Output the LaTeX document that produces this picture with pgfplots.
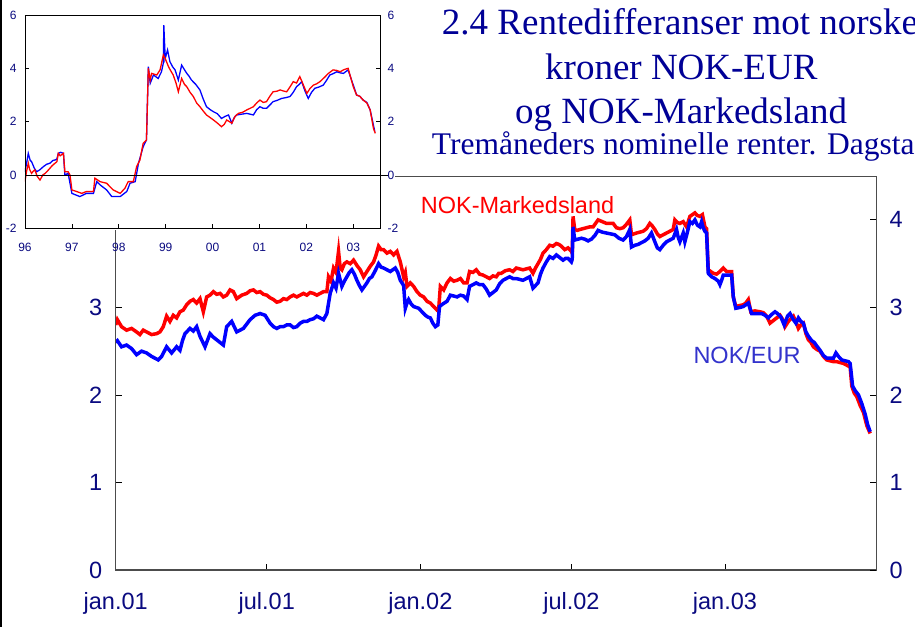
\documentclass[border=0pt]{standalone}
\usepackage{fontspec}
\setmainfont{Liberation Sans}
\newfontfamily\titlefont{Liberation Serif}
\usepackage{pgfplots}
\pgfplotsset{compat=1.18}
\definecolor{navy}{RGB}{10,10,128}
\definecolor{titleblue}{RGB}{0,0,150}
\definecolor{eurlabel}{RGB}{51,51,204}

\pgfplotstableread{
d v
0 2.80
2 2.86
7 2.78
13 2.74
19 2.76
25 2.72
29 2.69
33 2.74
37 2.72
43 2.69
49 2.70
53 2.72
57 2.78
61 2.90
65 2.84
69 2.91
73 2.88
77 2.95
81 2.97
85 3.03
89 3.07
93 3.09
97 3.05
101 3.10
105 2.95
109 3.12
113 3.14
117 3.18
121 3.15
125 3.16
129 3.12
133 3.14
137 3.20
141 3.18
145 3.10
151 3.14
157 3.16
161 3.19
165 3.20
169 3.17
173 3.18
177 3.15
181 3.14
185 3.11
189 3.09
193 3.06
197 3.07
201 3.10
205 3.09
209 3.12
213 3.14
217 3.12
221 3.14
225 3.16
229 3.14
233 3.17
237 3.16
241 3.14
245 3.16
249 3.18
253 3.18
255 3.35
258 3.30
261 3.45
264 3.40
267 3.64
269 3.45
271 3.43
274 3.50
277 3.52
281 3.50
285 3.54
289 3.48
293 3.43
297 3.35
301 3.41
305 3.47
309 3.52
312 3.60
315 3.70
318 3.66
321 3.66
325 3.62
329 3.64
333 3.60
337 3.64
341 3.52
345 3.35
347 3.40
349 3.24
353 3.28
357 3.24
361 3.18
365 3.14
369 3.12
373 3.07
377 3.05
381 3.01
385 2.97
387 2.98
389 3.24
393 3.20
397 3.28
401 3.33
405 3.30
409 3.31
413 3.33
417 3.28
421 3.28
424 3.41
428 3.40
432 3.43
436 3.38
440 3.37
444 3.35
448 3.33
452 3.36
456 3.35
459 3.39
462 3.39
467 3.42
472 3.43
476 3.41
480 3.45
484 3.44
488 3.43
492 3.44
496 3.45
500 3.39
503 3.45
506 3.50
509 3.55
512 3.62
516 3.66
520 3.71
524 3.70
528 3.73
531 3.72
534 3.70
538 3.66
542 3.68
546 3.64
547 3.62
548 4.04
550 3.89
553 3.88
556 3.89
560 3.90
564 3.91
568 3.92
572 3.92
575 3.96
578 4.00
583 3.98
588 3.96
592 3.96
596 3.96
600 3.91
604 3.90
608 3.91
612 3.95
616 4.00
618 3.83
621 3.84
624 3.85
628 3.86
632 3.87
636 3.90
640 3.96
643 3.93
646 3.89
649 3.84
652 3.81
656 3.83
660 3.85
664 3.87
668 3.89
670 4.00
673 3.97
676 3.96
680 3.98
684 3.92
688 4.04
691 4.06
694 4.08
697 4.05
700 4.04
703 4.06
706 3.92
708 3.90
710 3.43
713 3.41
716 3.39
720 3.38
724 3.41
726 3.43
728 3.45
732 3.41
735 3.41
738 3.41
740 3.12
743 3.01
747 3.02
752 3.03
755 3.05
758 3.09
761 2.95
766 2.96
772 2.95
776 2.94
780 2.90
784 2.82
788 2.85
792 2.88
796 2.91
800 2.85
802 2.78
806 2.84
812 2.90
815 2.84
818 2.76
821 2.80
824 2.82
827 2.70
830 2.63
833 2.60
836 2.55
840 2.52
844 2.50
848 2.44
852 2.40
856 2.39
860 2.38
864 2.38
868 2.37
872 2.36
876 2.34
880 2.32
882 2.10
885 2.02
888 1.98
892 1.88
896 1.80
900 1.65
904 1.56
}\mainred

\pgfplotstableread{
d v
0 2.60
2 2.62
7 2.55
13 2.57
19 2.53
25 2.46
31 2.50
37 2.48
43 2.44
47 2.42
51 2.40
55 2.44
61 2.55
67 2.48
73 2.55
77 2.51
80 2.62
83 2.70
89 2.76
93 2.73
97 2.78
101 2.67
107 2.55
113 2.70
117 2.66
121 2.63
125 2.60
129 2.57
133 2.78
139 2.84
145 2.72
149 2.74
153 2.76
161 2.86
167 2.91
173 2.93
179 2.91
185 2.82
189 2.78
193 2.76
197 2.78
201 2.78
205 2.80
209 2.80
213 2.77
217 2.78
221 2.82
225 2.84
229 2.84
233 2.86
237 2.87
241 2.90
245 2.88
249 2.86
253 2.93
257 3.16
261 3.28
264 3.22
267 3.39
271 3.24
274 3.30
277 3.35
280 3.40
283 3.43
286 3.38
289 3.31
292 3.25
295 3.20
298 3.24
301 3.28
304 3.33
307 3.35
311 3.42
315 3.50
318 3.46
321 3.45
325 3.43
329 3.41
335 3.45
338 3.40
341 3.31
345 3.25
347 2.99
349 3.05
351 3.09
354 3.04
357 3.01
360 3.00
363 2.99
367 2.95
371 2.91
374 2.89
377 2.88
380 2.82
383 2.78
386 2.80
388 3.01
392 3.04
397 3.07
401 3.14
405 3.13
409 3.12
413 3.14
417 3.13
421 3.09
424 3.24
428 3.26
432 3.28
436 3.26
440 3.26
444 3.21
448 3.14
452 3.17
456 3.20
460 3.27
464 3.31
468 3.33
472 3.35
476 3.33
480 3.33
484 3.32
488 3.31
492 3.33
496 3.35
500 3.22
503 3.25
506 3.28
509 3.38
512 3.45
516 3.52
520 3.58
524 3.56
528 3.60
532 3.57
536 3.54
539 3.56
542 3.56
546 3.52
547 3.55
548 3.92
550 3.77
554 3.78
558 3.79
562 3.78
566 3.76
570 3.78
574 3.82
578 3.88
583 3.86
588 3.85
593 3.84
598 3.83
603 3.79
608 3.77
612 3.81
616 3.89
618 3.69
622 3.71
626 3.72
630 3.74
634 3.76
638 3.79
642 3.85
646 3.75
649 3.68
652 3.66
656 3.71
660 3.75
664 3.77
668 3.79
672 3.89
674 3.80
676 3.75
680 3.85
682 3.75
685 3.86
688 3.98
691 3.96
694 4.00
697 3.94
700 3.92
702 3.98
704 3.91
706 3.87
708 3.85
710 3.39
714 3.35
718 3.33
722 3.30
724 3.26
726 3.31
728 3.37
733 3.37
738 3.37
740 3.12
743 2.99
748 3.00
752 3.01
755 3.03
758 3.05
762 2.93
768 2.93
774 2.93
778 2.91
782 2.88
786 2.92
790 2.95
793 2.93
797 2.89
801 2.80
805 2.90
808 2.93
812 2.86
815 2.82
818 2.88
821 2.84
824 2.82
827 2.72
830 2.67
834 2.62
837 2.60
840 2.56
844 2.51
848 2.45
852 2.42
856 2.42
860 2.42
863 2.48
866 2.44
870 2.40
874 2.39
878 2.38
880 2.36
883 2.10
886 2.05
890 2.00
894 1.90
898 1.78
901 1.66
904 1.58
}\mainblue

\pgfplotstableread{
y v
96.00 -0.25
96.03 0.10
96.07 0.44
96.10 0.20
96.14 0.06
96.18 0.15
96.21 0.19
96.26 -0.05
96.32 -0.19
96.38 0.00
96.43 0.06
96.48 0.15
96.53 0.25
96.58 0.35
96.64 0.44
96.68 0.50
96.71 0.81
96.75 0.72
96.82 0.81
96.85 0.12
96.92 0.12
96.96 0.00
97.00 -0.56
97.10 -0.62
97.21 -0.69
97.31 -0.62
97.46 -0.62
97.49 -0.12
97.60 -0.25
97.74 -0.31
97.88 -0.56
98.03 -0.69
98.13 -0.50
98.20 -0.25
98.31 -0.25
98.38 0.31
98.45 0.56
98.52 1.19
98.59 1.31
98.63 4.00
98.67 3.56
98.70 3.81
98.81 3.75
98.88 3.94
98.95 4.50
98.99 4.37
99.06 4.06
99.11 3.90
99.16 3.75
99.22 3.45
99.27 3.12
99.34 3.62
99.40 3.40
99.45 3.31
99.52 3.10
99.59 2.94
99.66 2.70
99.73 2.56
99.80 2.40
99.87 2.25
99.95 2.15
100.02 2.06
100.10 1.95
100.19 1.81
100.25 1.90
100.30 2.06
100.36 2.00
100.41 1.94
100.48 2.20
100.55 2.31
100.64 2.35
100.73 2.44
100.80 2.50
100.87 2.56
100.94 2.70
101.01 2.81
101.08 2.72
101.15 2.75
101.22 2.95
101.29 3.12
101.37 3.14
101.44 3.19
101.51 3.15
101.58 3.12
101.65 3.30
101.72 3.50
101.79 3.45
101.86 3.69
101.93 3.40
102.01 3.06
102.08 3.25
102.15 3.37
102.22 3.42
102.29 3.50
102.38 3.65
102.47 3.81
102.57 3.94
102.65 3.92
102.72 3.87
102.80 3.95
102.89 4.00
103.00 3.31
103.07 3.00
103.14 2.95
103.21 2.81
103.29 2.70
103.36 2.44
103.43 1.75
103.47 1.56
}\insetred

\pgfplotstableread{
y v
96.00 0.12
96.04 0.50
96.07 0.81
96.11 0.55
96.14 0.50
96.20 0.25
96.25 0.12
96.32 0.20
96.39 0.31
96.46 0.40
96.53 0.44
96.60 0.55
96.64 0.56
96.68 0.60
96.71 0.81
96.76 0.85
96.82 0.81
96.85 0.00
96.92 0.06
97.00 -0.69
97.17 -0.81
97.31 -0.69
97.46 -0.69
97.53 -0.25
97.60 -0.37
97.74 -0.56
97.85 -0.81
98.03 -0.81
98.17 -0.62
98.24 -0.31
98.35 -0.25
98.42 0.44
98.52 1.06
98.59 1.31
98.63 4.06
98.67 3.44
98.74 3.75
98.84 3.62
98.91 3.87
98.95 4.20
98.96 5.62
98.99 4.37
99.04 4.69
99.09 4.25
99.15 4.05
99.20 3.94
99.27 3.56
99.34 4.12
99.40 3.95
99.45 3.81
99.50 3.70
99.55 3.56
99.64 3.40
99.73 3.19
99.80 2.85
99.87 2.56
99.95 2.45
100.02 2.37
100.10 2.30
100.19 2.12
100.27 2.20
100.34 2.25
100.41 1.94
100.46 2.15
100.51 2.25
100.62 2.28
100.73 2.31
100.80 2.28
100.87 2.25
100.94 2.45
101.01 2.56
101.08 2.50
101.15 2.50
101.22 2.62
101.29 2.75
101.38 2.80
101.47 2.87
101.56 2.90
101.65 2.94
101.72 3.10
101.79 3.31
101.85 3.40
101.90 3.50
101.97 3.15
102.04 2.87
102.11 3.10
102.18 3.25
102.27 3.30
102.36 3.37
102.43 3.55
102.50 3.75
102.57 3.80
102.65 3.87
102.72 3.83
102.79 3.81
102.89 3.94
103.00 3.37
103.07 3.00
103.14 2.95
103.21 2.81
103.29 2.72
103.36 2.44
103.46 1.62
}\insetblue

\pgfplotsset{
  mainax/.style={
    at={(115.7bp,57bp)}, anchor=south west,
    width=760.3bp, height=393bp, scale only axis,
    xmin=0, xmax=911, ymin=0, ymax=4.49,
    axis line style={black!70, line width=1bp},
    tick style={black, line width=0.8bp},
    major tick length=6bp,
    ytick={0,1,2,3,4},
    tick label style={font=\fontsize{23.5bp}{28bp}\selectfont, text=navy},
    /pgf/number format/assume math mode=true,
  },
  insetax/.style={
    at={(25bp,398.7bp)}, anchor=south west,
    width=355bp, height=213.3bp, scale only axis,
    xmin=96, xmax=103.57, ymin=-2, ymax=6,
    axis line style={black, line width=0.8bp},
    tick style={black, line width=0.6bp},
    major tick length=4bp,
    ytick={-2,0,2,4,6},
    tick label style={font=\fontsize{12bp}{14bp}\selectfont, text=navy},
    /pgf/number format/assume math mode=true,
  },
}

\begin{document}
\begin{tikzpicture}
\useasboundingbox (0,0) rectangle (915bp,627bp);
\clip (0,0) rectangle (915bp,627bp);
\fill[white] (0,0) rectangle (915bp,627bp);

% main axis
\begin{axis}[mainax,
  xtick={0,181,365,546,730},
  xticklabels={jan.01,jul.01,jan.02,jul.02,jan.03},
  xtick pos=left, ytick pos=left,
  yticklabel style={xshift=-10bp},
  xticklabel style={yshift=-19bp},
]
\addplot[red, line width=3.5bp] table[x=d,y=v] {\mainred};
\addplot[blue, line width=3.5bp] table[x=d,y=v] {\mainblue};
\end{axis}
\begin{axis}[mainax, xtick=\empty, ytick pos=right, yticklabel pos=right,
  yticklabel style={xshift=10bp}]
\end{axis}

% white inset background
\fill[white] (0bp,397bp) rectangle (395bp,627bp);

% inset
\begin{axis}[insetax,
  xtick={96,...,103},
  xticklabels={96,97,98,99,00,01,02,03},
  xtick pos=left, ytick pos=left,
  yticklabel style={xshift=-5bp},
  xticklabel style={yshift=-11bp},
]
\addplot[blue, line width=1.3bp] table[x=y,y=v] {\insetblue};
\addplot[red, line width=1.3bp] table[x=y,y=v] {\insetred};
\end{axis}
\begin{axis}[insetax, xtick=\empty, ytick pos=right, yticklabel pos=right,
  yticklabel style={xshift=4bp}]
\end{axis}
\draw[black, line width=0.8bp] (25bp,452bp) -- (388bp,452bp);

% left border
\draw[black, line width=1.5bp] (0.75bp,0bp) -- (0.75bp,627bp);

% series labels
\node[anchor=base west, inner sep=0pt, text=red, font=\fontsize{23.5bp}{28bp}\selectfont] at (420.7bp,413.7bp) {NOK-Markedsland};
\node[anchor=base west, inner sep=0pt, text=eurlabel, font=\fontsize{23.5bp}{28bp}\selectfont] at (693.3bp,263.7bp) {NOK/EUR};

% title
\node[anchor=base west, inner sep=0pt, text=titleblue, font=\titlefont\fontsize{37bp}{44bp}\selectfont] at (441.7bp,592bp) {2.4 Rentedifferanser mot norske};
\node[anchor=base west, inner sep=0pt, text=titleblue, font=\titlefont\fontsize{37bp}{44bp}\selectfont] at (545bp,547bp) {kroner NOK-EUR};
\node[anchor=base west, inner sep=0pt, text=titleblue, font=\titlefont\fontsize{37bp}{44bp}\selectfont] at (515bp,503.7bp) {og NOK-Markedsland};
\node[anchor=base west, inner sep=0pt, text=titleblue, font=\titlefont\fontsize{31.5bp}{36bp}\selectfont] at (431.7bp,472bp) {Tremåneders nominelle renter. Dagstall};
\end{tikzpicture}
\end{document}
